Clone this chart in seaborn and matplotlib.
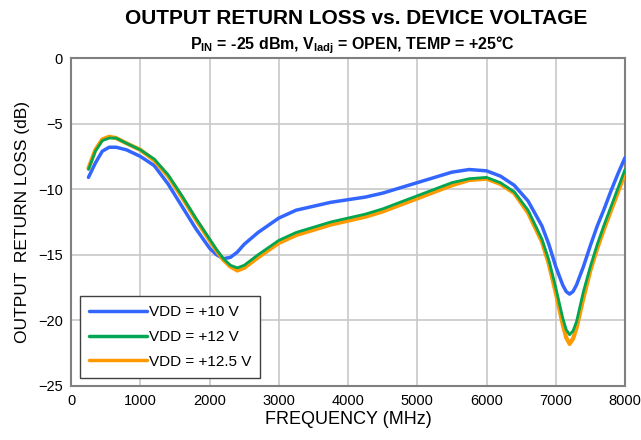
import numpy as np
import pandas as pd
import matplotlib
matplotlib.use('Agg')
import matplotlib.pyplot as plt
import seaborn as sns

# Datos (MHz, dB)
frecuencia = [250, 350, 450, 550, 650, 800, 1000, 1200, 1400, 1600, 1800, 2000,
              2100, 2200, 2300, 2400, 2500, 2700, 3000, 3250, 3500, 3750, 4000,
              4250, 4500, 4750, 5000, 5250, 5500, 5750, 6000, 6200, 6400, 6600,
              6800, 6900, 7000, 7100, 7150, 7200, 7250, 7300, 7400, 7500, 7600, 7700, 7800,
              7900, 8000]

rl_10v = [-9.1, -8.0, -7.1, -6.8, -6.8, -7.0, -7.5, -8.2, -9.6, -11.3, -13.0, -14.5,
          -15.0, -15.3, -15.2, -14.8, -14.2, -13.3, -12.2, -11.6, -11.3, -11.0, -10.8,
          -10.6, -10.3, -9.9, -9.5, -9.1, -8.7, -8.5, -8.6, -9.0, -9.7, -10.9,
          -12.8, -14.2, -15.9, -17.3, -17.8, -18.0, -17.8, -17.3, -15.9, -14.3, -12.8, -11.5, -10.1,
          -8.8, -7.6]

rl_12v = [-8.5, -7.1, -6.3, -6.1, -6.1, -6.5, -7.0, -7.7, -8.9, -10.5, -12.2, -13.8,
          -14.6, -15.3, -15.8, -16.0, -15.8, -15.0, -13.9, -13.3, -12.9, -12.5, -12.2,
          -11.9, -11.5, -11.0, -10.5, -10.0, -9.5, -9.2, -9.1, -9.5, -10.2, -11.6,
          -13.8, -15.4, -17.5, -19.8, -20.7, -21.1, -20.8, -20.1, -17.8, -15.9, -14.2, -12.7, -11.3,
          -9.9, -8.5]

rl_125v = [-8.4, -7.0, -6.2, -6.0, -6.1, -6.5, -7.0, -7.8, -9.0, -10.6, -12.3, -13.9,
           -14.7, -15.4, -15.9, -16.2, -16.0, -15.2, -14.1, -13.5, -13.1, -12.7, -12.4,
           -12.1, -11.7, -11.2, -10.7, -10.2, -9.7, -9.3, -9.2, -9.6, -10.3, -11.8,
           -14.0, -15.7, -17.9, -20.3, -21.3, -21.8, -21.4, -20.6, -18.3, -16.2, -14.5, -13.0, -11.6,
           -10.2, -8.8]

etiquetas = ['VDD = +10 V', 'VDD = +12 V', 'VDD = +12.5 V']
colores = {'VDD = +10 V': '#3366ff', 'VDD = +12 V': '#00a651', 'VDD = +12.5 V': '#ff9900'}

df = pd.concat([
    pd.DataFrame({'f': frecuencia, 'rl': rl_10v, 'serie': etiquetas[0]}),
    pd.DataFrame({'f': frecuencia, 'rl': rl_12v, 'serie': etiquetas[1]}),
    pd.DataFrame({'f': frecuencia, 'rl': rl_125v, 'serie': etiquetas[2]}),
], ignore_index=True)

sns.set_style("white")
plt.rcParams['font.family'] = ['Liberation Sans', 'DejaVu Sans']
plt.rcParams['mathtext.fontset'] = 'custom'
plt.rcParams['mathtext.rm'] = 'Liberation Sans:bold'
plt.rcParams['mathtext.bf'] = 'Liberation Sans:bold'
plt.rcParams['text.color'] = 'black'
plt.rcParams['axes.labelcolor'] = 'black'
plt.rcParams['xtick.color'] = 'black'
plt.rcParams['ytick.color'] = 'black'

fig = plt.figure(figsize=(6.41, 4.40), dpi=100)
ax = fig.add_axes([0.111, 0.123, 0.864, 0.745])

# orden de dibujo: naranja debajo, verde encima
for serie, lw, z in [(etiquetas[0], 2.5, 3), (etiquetas[2], 3.0, 3), (etiquetas[1], 2.0, 4)]:
    sns.lineplot(data=df[df['serie'] == serie], x='f', y='rl', color=colores[serie],
                 linewidth=lw, ax=ax, zorder=z, legend=False)

ax.set_xlim(0, 8000)
ax.set_ylim(-25, 0)
ax.set_xticks(range(0, 8001, 1000))
ax.set_yticks(range(-25, 1, 5))
ax.grid(True, color='#c8c8c8', linewidth=1.2)
ax.tick_params(length=0, labelsize=10.5, pad=6)
for s in ax.spines.values():
    s.set_color('#808080')
    s.set_linewidth(1.5)

ax.set_xlabel('FREQUENCY (MHz)', fontsize=13, labelpad=2)
ax.set_ylabel('OUTPUT  RETURN LOSS (dB)', fontsize=12.5, labelpad=6)

fig.text(0.555, 0.957, 'OUTPUT RETURN LOSS vs. DEVICE VOLTAGE', ha='center', va='center',
         fontsize=15, fontweight='bold')
fig.text(0.55, 0.897, r'P$_{\mathrm{IN}}$ = -25 dBm, V$_{\mathrm{ladj}}$ = OPEN, TEMP = +25°C',
         ha='center', va='center', fontsize=11.5, fontweight='bold')

handles = [plt.Line2D([], [], color=colores[e], linewidth=2.5) for e in etiquetas]
leg = ax.legend(handles, etiquetas, loc='lower left', bbox_to_anchor=(0.016, 0.024),
                borderaxespad=0, fontsize=11, handlelength=3.8, handletextpad=0.1,
                fancybox=False, framealpha=1, edgecolor='#404040', borderpad=0.6,
                labelspacing=0.7)
leg.get_frame().set_linewidth(1.0)

plt.savefig('out.png', dpi=100)
